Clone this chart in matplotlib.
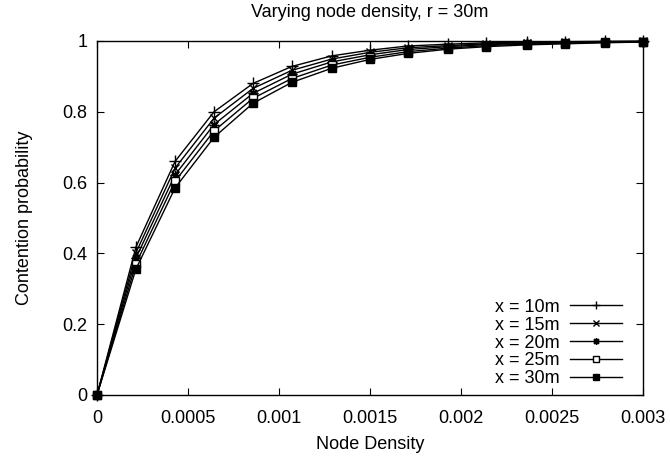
import matplotlib
matplotlib.use("Agg")
import matplotlib.pyplot as plt

plt.rcParams['font.family'] = ['Liberation Sans', 'DejaVu Sans']

# node density samples
density = [0, 0.000214, 0.000429, 0.000643, 0.000857, 0.00107, 0.00129, 0.0015,
           0.00171, 0.00193, 0.00214, 0.00236, 0.00257, 0.00279, 0.003]

# contention probability for each x
p_10 = [0, 0.418, 0.660, 0.800, 0.880, 0.928, 0.958, 0.974, 0.986, 0.991, 0.995, 0.997, 0.998, 0.999, 0.9995]
p_15 = [0, 0.402, 0.641, 0.782, 0.866, 0.917, 0.949, 0.968, 0.981, 0.987, 0.992, 0.995, 0.997, 0.998, 0.999]
p_20 = [0, 0.387, 0.622, 0.764, 0.852, 0.906, 0.941, 0.961, 0.976, 0.984, 0.990, 0.993, 0.995, 0.997, 0.998]
p_25 = [0, 0.371, 0.604, 0.746, 0.838, 0.894, 0.932, 0.954, 0.970, 0.980, 0.987, 0.991, 0.994, 0.996, 0.9975]
p_30 = [0, 0.356, 0.585, 0.728, 0.824, 0.883, 0.923, 0.948, 0.965, 0.977, 0.984, 0.989, 0.992, 0.995, 0.997]

labels = ["x = 10m", "x = 15m", "x = 20m", "x = 25m", "x = 30m"]
xticks = [0, 0.0005, 0.001, 0.0015, 0.002, 0.0025, 0.003]
xtick_labels = ["0", "0.0005", "0.001", "0.0015", "0.002", "0.0025", "0.003"]
yticks = [0, 0.2, 0.4, 0.6, 0.8, 1]
ytick_labels = ["0", "0.2", "0.4", "0.6", "0.8", "1"]

fs = 13

fig = plt.figure(figsize=(6.7, 4.57), dpi=100)
ax = fig.add_axes([0.1448, 0.1357, 0.8149, 0.7746])

# gnuplot style point types
styles = [
    dict(marker='+', ms=8, mew=1.0),
    dict(marker='x', ms=6, mew=1.0),
    dict(marker=(8, 2, 0), ms=7, mew=1.0),
    dict(marker='s', ms=6, mfc='white', mew=1.0),
    dict(marker='s', ms=6, mfc='black', mew=1.0),
]
series = [p_10, p_15, p_20, p_25, p_30]
for ys, lab, st in zip(series, labels, styles):
    ax.plot(density, ys, color='black', lw=1.0, mec='black', label=lab,
            clip_on=False, zorder=3, **st)

ax.set_xlim(0, 0.003)
ax.set_ylim(0, 1)
ax.set_xticks(xticks)
ax.set_xticklabels(xtick_labels)
ax.set_yticks(yticks)
ax.set_yticklabels(ytick_labels)
ax.tick_params(direction='in', top=True, right=True, length=5, labelsize=fs)
ax.tick_params(axis='x', pad=11)
ax.tick_params(axis='y', pad=7)
for s in ax.spines.values():
    s.set_linewidth(1.0)

ax.set_xlabel("Node Density", fontsize=fs, labelpad=6)
ax.set_ylabel("Contention probability", fontsize=fs, labelpad=21)
ax.set_title("Varying node density, r = 30m", fontsize=fs, pad=17)

leg = ax.legend(loc='lower right', bbox_to_anchor=(1, -0.037), frameon=False,
                fontsize=fs, markerfirst=False,
                handlelength=2.9, handletextpad=0.55, labelspacing=0.05,
                borderaxespad=0.75, markerscale=0.7)

fig.savefig("out.png", dpi=100)
